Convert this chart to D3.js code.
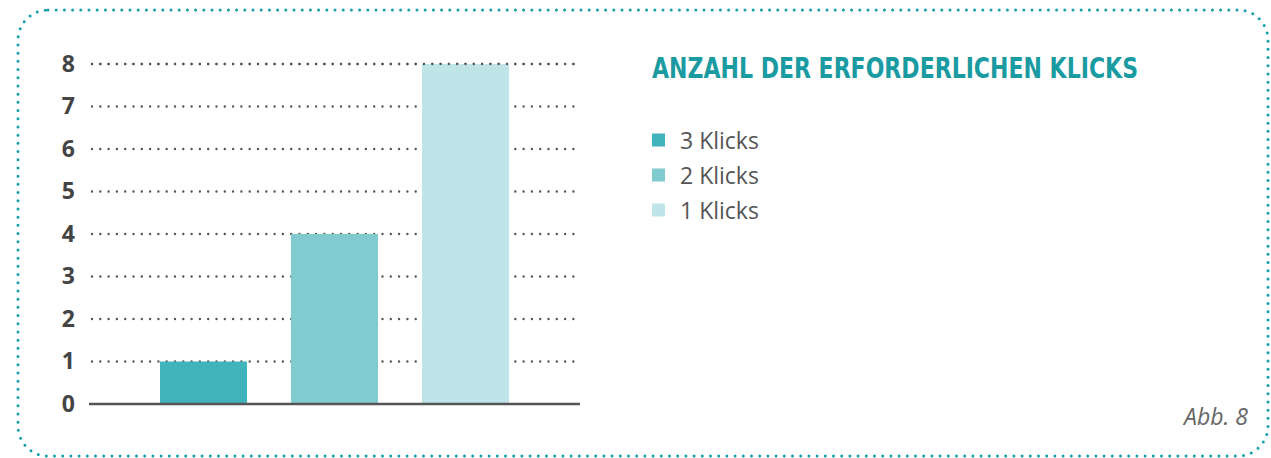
<!DOCTYPE html>
<html>
<head>
<meta charset="utf-8">
<script src="https://cdn.jsdelivr.net/npm/d3@7"></script>
<style>
  body { margin: 0; background: #fff; }
  svg { display: block; }
</style>
</head>
<body>
<div class="container"></div>
<script>
var categories = ['3 Klicks', '2 Klicks', '1 Klicks'];
var values = [1, 4, 8];
var yTicks = [0, 1, 2, 3, 4, 5, 6, 7, 8];
var colors = ['#40b3bb', '#80cbd0', '#c0e5e8'];
var title = 'ANZAHL DER ERFORDERLICHEN KLICKS';
var note = 'Abb. 8';

var w = 1271;
var h = 458;

var svg = d3.select('.container')
  .append('svg')
  .attr('width', w)
  .attr('height', h);

/* ===== FRAME ===== */
svg.append('rect')
  .attr('x', 18).attr('y', 10)
  .attr('width', 1250).attr('height', 446)
  .attr('rx', 30).attr('ry', 30)
  .attr('fill', 'none')
  .attr('stroke', '#13a0aa')
  .attr('stroke-width', 3)
  .attr('stroke-linecap', 'round')
  .attr('stroke-dasharray', '0 8.2');

/* ===== SCALES ===== */
var xScale = d3.scaleBand()
  .domain(categories)
  .range([89, 580])
  .paddingInner(0.336)
  .paddingOuter(0.542);

var yScale = d3.scaleLinear()
  .domain([0, 8])
  .range([404, 64]);

/* ===== GRID ===== */
svg.append('g')
  .selectAll('line')
  .data(yTicks.filter(function(d) { return d > 0; }))
  .enter()
  .append('line')
  .attr('x1', 92).attr('x2', 580)
  .attr('y1', function(d) { return yScale(d); })
  .attr('y2', function(d) { return yScale(d); })
  .attr('stroke', '#555')
  .attr('stroke-width', 2.4)
  .attr('stroke-linecap', 'round')
  .attr('stroke-dasharray', '0 8.3');

/* ===== BARS ===== */
svg.append('g')
  .selectAll('rect')
  .data(values)
  .enter()
  .append('rect')
  .attr('x', function(d, i) { return xScale(categories[i]); })
  .attr('width', xScale.bandwidth())
  .attr('y', function(d) { return yScale(d); })
  .attr('height', function(d) { return yScale(0) - yScale(d); })
  .attr('fill', function(d, i) { return colors[i]; });

/* top grid line stays visible over the tallest bar */
svg.append('line')
  .attr('x1', 92).attr('x2', 580)
  .attr('y1', yScale(8)).attr('y2', yScale(8))
  .attr('stroke', '#555')
  .attr('stroke-width', 2.4)
  .attr('stroke-linecap', 'round')
  .attr('stroke-dasharray', '0 8.3');

/* ===== AXES ===== */
var yAxis = d3.axisLeft(yScale)
  .tickValues(yTicks)
  .tickSize(0)
  .tickPadding(0)
  .tickFormat(d3.format('d'));

var yG = svg.append('g')
  .attr('transform', 'translate(75,0)')
  .call(yAxis);
yG.select('.domain').remove();
yG.selectAll('text')
  .attr('font-family', '"Open Sans", sans-serif')
  .attr('font-weight', 'bold')
  .attr('font-size', '23px')
  .attr('fill', '#444');

svg.append('line')
  .attr('x1', 89).attr('x2', 580)
  .attr('y1', yScale(0)).attr('y2', yScale(0))
  .attr('stroke', '#555')
  .attr('stroke-width', 2.5);

/* ===== TITLE ===== */
svg.append('text')
  .attr('x', 652).attr('y', 78)
  .attr('font-family', '"Liberation Sans Narrow", "DejaVu Sans Condensed", sans-serif')
  .attr('font-weight', 'bold')
  .attr('font-size', '28px')
  .attr('fill', '#1a9ba1')
  .attr('textLength', 486)
  .attr('lengthAdjust', 'spacingAndGlyphs')
  .text(title);

/* ===== LEGEND ===== */
var legend = svg.append('g')
  .selectAll('g')
  .data(categories)
  .enter()
  .append('g')
  .attr('transform', function(d, i) { return 'translate(652,' + (140 + i * 35) + ')'; });

legend.append('rect')
  .attr('x', 0).attr('y', -6.5)
  .attr('width', 13).attr('height', 13)
  .attr('fill', function(d, i) { return colors[i]; });

legend.append('text')
  .attr('x', 28).attr('y', 8.5)
  .attr('font-family', '"Open Sans", sans-serif')
  .attr('font-size', '23px')
  .attr('fill', '#555')
  .text(function(d) { return d; });

/* ===== NOTE ===== */
svg.append('text')
  .attr('x', 1248).attr('y', 425)
  .attr('text-anchor', 'end')
  .attr('font-family', '"Open Sans", sans-serif')
  .attr('font-style', 'italic')
  .attr('font-size', '23px')
  .attr('fill', '#666')
  .text(note);
</script>
</body>
</html>
